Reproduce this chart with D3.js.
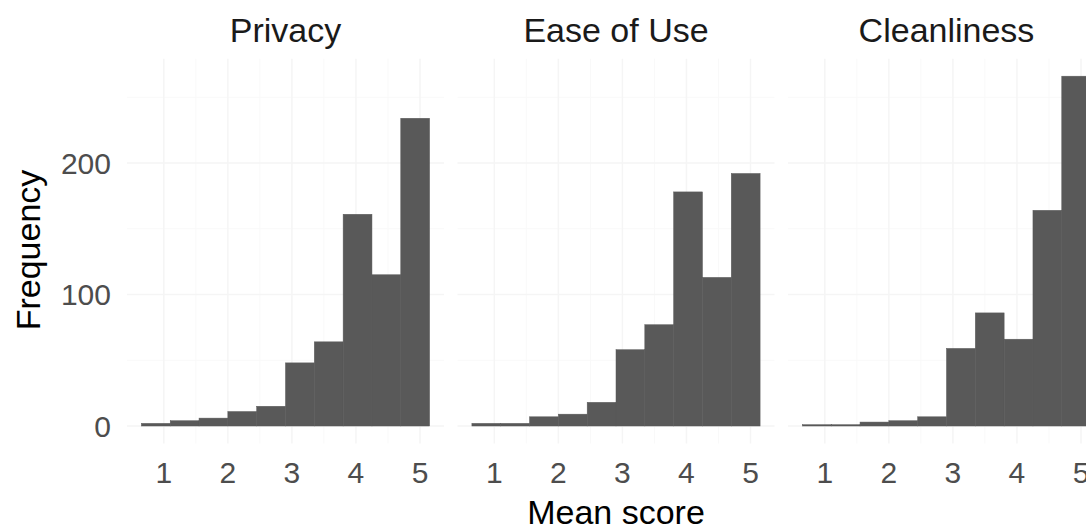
<!DOCTYPE html>
<html>
<head>
<meta charset="utf-8">
<script src="https://cdn.jsdelivr.net/npm/d3@7"></script>
<style>
    body { margin: 0; background: #fff; }
    svg { display: block; font-family: "Liberation Sans", Arial, sans-serif; }
</style>
</head>
<body>
<svg id="chart" width="1086" height="528"></svg>
<script>
// facet names
const facets = ["Privacy", "Ease of Use", "Cleanliness"];

// histogram bins (lower edge of each bin, bin width)
const binStarts = [0.65, 1.1, 1.55, 2.0, 2.45, 2.9, 3.35, 3.8, 4.25, 4.7];
const binWidth = 0.45;

// counts per bin for each facet
const privacy = [2, 4, 6, 11, 15, 48, 64, 161, 115, 234];
const easeOfUse = [2, 2, 7, 9, 18, 58, 77, 178, 113, 192];
const cleanliness = [1, 1, 3, 4, 7, 59, 86, 66, 164, 266];

// tick labels
const xTicks = [1, 2, 3, 4, 5];
const yTicks = [0, 100, 200];

const counts = [privacy, easeOfUse, cleanliness];

const svg = d3.select("#chart");

// layout
const panelLeft = 127;
const panelWidth = 317;
const panelGap = 13.5;
const panelTop = 58.7;
const panelBottom = 443.5;

// shared scales
const xMin = binStarts[0];
const xMax = binStarts[binStarts.length - 1] + binWidth;
const xPad = (xMax - xMin) * 0.05;
const yMax = d3.max(counts.flat());

const y = d3.scaleLinear()
    .domain([-yMax * 0.05, yMax * 1.05])
    .range([panelBottom, panelTop]);

facets.forEach((name, i) => {
    const left = panelLeft + i * (panelWidth + panelGap);
    const x = d3.scaleLinear()
        .domain([xMin - xPad, xMax + xPad])
        .range([left, left + panelWidth]);

    const g = svg.append("g");

    // minor grid
    g.selectAll("line.vminor")
        .data([1.5, 2.5, 3.5, 4.5])
        .enter().append("line")
        .attr("x1", d => x(d)).attr("x2", d => x(d))
        .attr("y1", panelTop).attr("y2", panelBottom)
        .attr("stroke", "#f9f9f9").attr("stroke-width", 1);
    g.selectAll("line.hminor")
        .data([50, 150, 250])
        .enter().append("line")
        .attr("x1", left).attr("x2", left + panelWidth)
        .attr("y1", d => y(d)).attr("y2", d => y(d))
        .attr("stroke", "#f9f9f9").attr("stroke-width", 1);

    // major grid
    g.selectAll("line.vmajor")
        .data(xTicks)
        .enter().append("line")
        .attr("x1", d => x(d)).attr("x2", d => x(d))
        .attr("y1", panelTop).attr("y2", panelBottom)
        .attr("stroke", "#f5f5f5").attr("stroke-width", 1.5);
    g.selectAll("line.hmajor")
        .data(yTicks)
        .enter().append("line")
        .attr("x1", left).attr("x2", left + panelWidth)
        .attr("y1", d => y(d)).attr("y2", d => y(d))
        .attr("stroke", "#f5f5f5").attr("stroke-width", 1.5);

    // bars
    g.selectAll("rect")
        .data(counts[i])
        .enter().append("rect")
        .attr("x", (d, j) => x(binStarts[j]))
        .attr("width", (d, j) => x(binStarts[j] + binWidth) - x(binStarts[j]))
        .attr("y", d => y(d))
        .attr("height", d => y(0) - y(d))
        .attr("fill", "#595959")
        .attr("stroke", "#595959")
        .attr("stroke-width", 0.5);

    // x tick labels
    g.selectAll("text.xt")
        .data(xTicks)
        .enter().append("text")
        .attr("x", d => x(d))
        .attr("y", 483)
        .attr("text-anchor", "middle")
        .attr("font-size", 30)
        .attr("fill", "#4d4d4d")
        .text(d => d);

    // strip title
    g.append("text")
        .attr("x", left + panelWidth / 2)
        .attr("y", 42)
        .attr("text-anchor", "middle")
        .attr("font-size", 34)
        .attr("fill", "#1a1a1a")
        .text(name);
});

// y tick labels
svg.selectAll("text.yt")
    .data(yTicks)
    .enter().append("text")
    .attr("x", 111)
    .attr("y", d => y(d))
    .attr("dy", "0.36em")
    .attr("text-anchor", "end")
    .attr("font-size", 30)
    .attr("fill", "#4d4d4d")
    .text(d => d);

// axis titles
svg.append("text")
    .attr("x", panelLeft + (3 * panelWidth + 2 * panelGap) / 2)
    .attr("y", 524)
    .attr("text-anchor", "middle")
    .attr("font-size", 34)
    .attr("fill", "#000")
    .text("Mean score");

svg.append("text")
    .attr("transform", "translate(40,250) rotate(-90)")
    .attr("text-anchor", "middle")
    .attr("font-size", 34)
    .attr("fill", "#000")
    .text("Frequency");
</script>
</body>
</html>
